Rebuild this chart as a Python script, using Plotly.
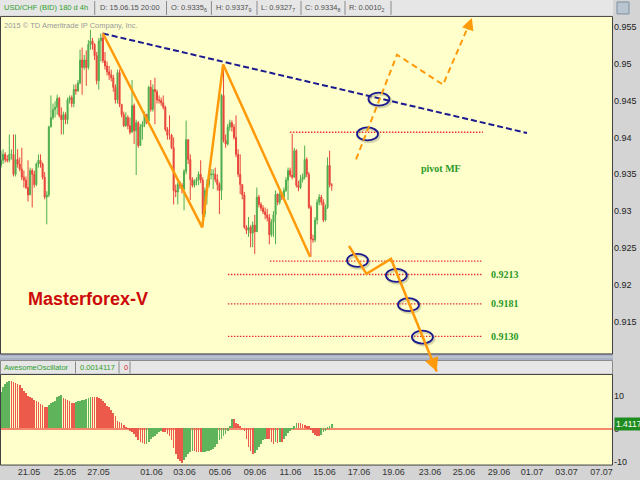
import plotly.graph_objects as go

# ---------------- data ----------------
first_open = 0.9362
closes = [0.9369, 0.9377, 0.9370, 0.9369, 0.9377, 0.9377, 0.9350, 0.9370, 0.9364, 0.9357,
          0.9346, 0.9342, 0.9332, 0.9322, 0.9355, 0.9350, 0.9336, 0.9364, 0.9369, 0.9364,
          0.9346, 0.9319, 0.9322, 0.9414, 0.9427, 0.9438, 0.9441, 0.9453, 0.9430, 0.9424,
          0.9431, 0.9424, 0.9451, 0.9454, 0.9446, 0.9465, 0.9463, 0.9474, 0.9505, 0.9495,
          0.9505, 0.9495, 0.9526, 0.9531, 0.9526, 0.9511, 0.9477, 0.9531, 0.9535, 0.9504,
          0.9497, 0.9489, 0.9485, 0.9481, 0.9468, 0.9451, 0.9488, 0.9445, 0.9431, 0.9416,
          0.9427, 0.9416, 0.9407, 0.9443, 0.9409, 0.9420, 0.9389, 0.9414, 0.9418, 0.9431,
          0.9422, 0.9468, 0.9438, 0.9465, 0.9462, 0.9451, 0.9450, 0.9447, 0.9441, 0.9411,
          0.9403, 0.9403, 0.9386, 0.9328, 0.9326, 0.9336, 0.9335, 0.9330, 0.9354, 0.9397,
          0.9370, 0.9343, 0.9335, 0.9341, 0.9343, 0.9350, 0.9342, 0.9296, 0.9328, 0.9336,
          0.9349, 0.9350, 0.9350, 0.9343, 0.9336, 0.9328, 0.9457, 0.9396, 0.9391, 0.9414,
          0.9420, 0.9414, 0.9400, 0.9377, 0.9350, 0.9336, 0.9322, 0.9278, 0.9274, 0.9278,
          0.9270, 0.9281, 0.9272, 0.9319, 0.9309, 0.9304, 0.9299, 0.9295, 0.9291, 0.9268,
          0.9285, 0.9295, 0.9323, 0.9312, 0.9323, 0.9319, 0.9328, 0.9342, 0.9355, 0.9349,
          0.9346, 0.9382, 0.9335, 0.9332, 0.9343, 0.9346, 0.9370, 0.9350, 0.9305, 0.9262,
          0.9261, 0.9288, 0.9312, 0.9319, 0.9312, 0.9288, 0.9305, 0.9362, 0.93356, 0.93348]
highs = [0.9382, 0.9384, 0.9380, 0.9376, 0.9404, 0.9384, 0.9404, 0.9404, 0.9384, 0.9373,
         0.9386, 0.9355, 0.9347, 0.9369, 0.9359, 0.9358, 0.9355, 0.9366, 0.9377, 0.9377,
         0.9366, 0.9353, 0.9327, 0.9416, 0.9457, 0.9446, 0.9449, 0.9458, 0.9455, 0.9441,
         0.9435, 0.9434, 0.9454, 0.9457, 0.9457, 0.9472, 0.9472, 0.9478, 0.9519, 0.9522,
         0.9512, 0.9518, 0.9532, 0.9546, 0.9535, 0.9528, 0.9516, 0.9535, 0.9541, 0.9542,
         0.9516, 0.9503, 0.9497, 0.9492, 0.9485, 0.9472, 0.9492, 0.9492, 0.9445, 0.9435,
         0.9434, 0.9430, 0.9427, 0.9478, 0.9446, 0.9424, 0.9422, 0.9418, 0.9422, 0.9435,
         0.9432, 0.9470, 0.9478, 0.9472, 0.9481, 0.9465, 0.9457, 0.9454, 0.9457, 0.9443,
         0.9414, 0.9430, 0.9405, 0.9400, 0.9336, 0.9339, 0.9341, 0.9338, 0.9357, 0.9423,
         0.9397, 0.9377, 0.9346, 0.9343, 0.9346, 0.9354, 0.9369, 0.9346, 0.9332, 0.9343,
         0.9355, 0.9357, 0.9357, 0.9359, 0.9350, 0.9339, 0.9459, 0.9499, 0.9404, 0.9418,
         0.9424, 0.9423, 0.9418, 0.9430, 0.9384, 0.9377, 0.9336, 0.9326, 0.9281, 0.9292,
         0.9281, 0.9286, 0.9295, 0.9332, 0.9322, 0.9312, 0.9308, 0.9305, 0.9303, 0.9296,
         0.9289, 0.9300, 0.9328, 0.9324, 0.9327, 0.9326, 0.9332, 0.9346, 0.9359, 0.9359,
         0.9405, 0.9386, 0.9384, 0.9341, 0.9349, 0.9351, 0.9389, 0.9373, 0.9353, 0.9308,
         0.9268, 0.9292, 0.9316, 0.9323, 0.9322, 0.9316, 0.9309, 0.9373, 0.9382, 0.93379]
lows = [0.9359, 0.9364, 0.9366, 0.9366, 0.9366, 0.9370, 0.9347, 0.9347, 0.9359, 0.9354,
        0.9342, 0.9332, 0.9330, 0.9313, 0.9322, 0.9305, 0.9332, 0.9334, 0.9359, 0.9359,
        0.9343, 0.9316, 0.9282, 0.9319, 0.9414, 0.9424, 0.9427, 0.9431, 0.9427, 0.9404,
        0.9404, 0.9418, 0.9418, 0.9446, 0.9441, 0.9441, 0.9458, 0.9462, 0.9472, 0.9458,
        0.9492, 0.9470, 0.9492, 0.9519, 0.9519, 0.9505, 0.9472, 0.9465, 0.9503, 0.9501,
        0.9492, 0.9484, 0.9478, 0.9476, 0.9462, 0.9446, 0.9446, 0.9441, 0.9427, 0.9414,
        0.9414, 0.9411, 0.9404, 0.9407, 0.9391, 0.9349, 0.9386, 0.9389, 0.9397, 0.9414,
        0.9418, 0.9422, 0.9435, 0.9435, 0.9418, 0.9446, 0.9446, 0.9443, 0.9438, 0.9408,
        0.9397, 0.9397, 0.9384, 0.9309, 0.9319, 0.9309, 0.9330, 0.9324, 0.9301, 0.9350,
        0.9364, 0.9315, 0.9332, 0.9332, 0.9335, 0.9335, 0.9338, 0.9278, 0.9292, 0.9309,
        0.9332, 0.9343, 0.9330, 0.9339, 0.9328, 0.9296, 0.9315, 0.9393, 0.9386, 0.9389,
        0.9409, 0.9408, 0.9397, 0.9373, 0.9346, 0.9323, 0.9316, 0.9276, 0.9269, 0.9265,
        0.9251, 0.9251, 0.9242, 0.9272, 0.9305, 0.9300, 0.9296, 0.9289, 0.9286, 0.9255,
        0.9265, 0.9265, 0.9255, 0.9308, 0.9309, 0.9315, 0.9316, 0.9326, 0.9315, 0.9346,
        0.9343, 0.9346, 0.9332, 0.9327, 0.9330, 0.9339, 0.9343, 0.9346, 0.9303, 0.9238,
        0.9257, 0.9258, 0.9282, 0.9308, 0.9308, 0.9285, 0.9286, 0.9303, 0.9332, 0.93277]
ao_values = [10.9, 12.6, 13.6, 14.2, 14.4, 14.4, 14.2, 13.8, 13.4, 13.1,
             12.4, 11.2, 10.7, 9.8, 9.4, 9.1, 8.6, 8.2, 7.9, 7.4,
             7.2, 6.6, 6.4, 7.2, 7.6, 7.9, 8.4, 9.4, 9.9, 10.2,
             9.2, 8.9, 8.6, 8.4, 7.6, 7.6, 7.9, 8.2, 8.4, 8.6,
             8.7, 8.9, 9.2, 9.6, 9.6, 9.6, 9.6, 9.2, 8.9, 8.2,
             7.6, 6.9, 6.4, 5.6, 4.8, 3.8, 2.3, 1.8, 1.5, 1.1,
             0.3, -0.2, -0.8, -1.2, -1.7, -2.7, -3.5, -4.2, -4.5, -4.9,
             -4.7, -4.2, -3.2, -2.7, -2.2, -1.7, -1.2, -0.9, -1.2, -1.2,
             -1.7, -2.2, -3.7, -6.0, -7.8, -9.3, -10.0, -10.6, -9.6, -8.6,
             -7.8, -7.3, -7.0, -7.0, -7.3, -7.3, -7.3, -7.2, -7.1, -7.0,
             -6.8, -6.6, -6.3, -5.6, -4.7, -3.7, -3.2, -2.2, -1.7, -0.7,
             0.8, 2.8, 2.8, 1.6, 1.3, 0.8, -0.2, -0.9, -3.2, -5.6,
             -7.0, -7.8, -7.6, -6.6, -5.8, -4.7, -3.7, -3.2, -3.2, -3.2,
             -4.2, -4.7, -4.2, -4.5, -4.2, -4.2, -3.2, -2.2, -1.5, -0.7,
             -0.2, 0.6, 1.5, 1.5, 1.5, 1.3, 1.1, 0.6, 0.6, -0.5,
             -1.5, -1.9, -2.2, -2.5, -1.9, -1.0, -0.7, 0.4, 0.6, 1.4117]

date_tick_pos = [13.5, 30.8, 46.9, 72.4, 88.2, 105.3, 122.1, 139.2, 155.5,
                 172.1, 188.7, 206.3, 222.6, 239.4, 255.3, 271.9, 288.7]
date_tick_text = ["21.05", "25.05", "27.05", "01.06", "03.06", "05.06", "09.06", "11.06", "15.06",
                  "17.06", "19.06", "23.06", "25.06", "29.06", "01.07", "03.07", "07.07"]
price_ticks = [0.955, 0.95, 0.945, 0.94, 0.935, 0.93, 0.925, 0.92, 0.915]
price_tick_text = ["0.955", "0.95", "0.945", "0.94", "0.935", "0.93", "0.925", "0.92", "0.915"]
ao_ticks = [10, 0, -10]
ao_tick_text = ["10", "0", "-10"]

# drawing tools (bar index, price)
zigzag_x = [49.0, 96.7, 106.8, 148.6]
zigzag_y = [0.9541, 0.9278, 0.9499, 0.9238]
trend_x = [49.0, 252.9]
trend_y = [0.9541, 0.9406]
pivot_levels = [0.9407, 0.9232, 0.9214, 0.9174, 0.9130]
pivot_start = [138.9, 129.3, 109.1, 109.1, 109.1]
pivot_end = 231.7
level_labels = ["0.9213", "0.9181", "0.9130"]
level_label_y = [0.9214, 0.9174, 0.9130]
down_path_x = [167.3, 175.7, 187.5, 209.5]
down_path_y = [0.92527, 0.92149, 0.92351, 0.90824]
up_path_x = [170.7, 190.4, 212.5, 226.4]
up_path_y = [0.93703, 0.95122, 0.94716, 0.95622]
ellipse_x = [181.7, 176.2, 171.4, 190.1, 195.9, 202.6]
ellipse_y = [0.94520, 0.94047, 0.92331, 0.92128, 0.91730, 0.91291]

# ---------------- figure ----------------
W, H = 640, 480
PX = 613  # right edge of plot area


def fx(x):
    return x / W


def fy(y):
    return 1 - y / H


n = len(closes)
idx = list(range(n))
opens = [first_open] + closes[:-1]

G = "#4fae4f"
R = "#e8443a"
AO_G = "#5fb35a"
AO_R = "#ec5a4c"
ORANGE = "#ff9a0a"
NAVY = "#1b1b8f"
FONT = "Liberation Sans Narrow, Liberation Sans, Arial, sans-serif"

fig = go.Figure()
fig.add_trace(go.Candlestick(
    x=idx, open=opens, high=highs, low=lows, close=closes,
    increasing=dict(line=dict(color=G, width=1), fillcolor=G),
    decreasing=dict(line=dict(color=R, width=1), fillcolor=R),
    whiskerwidth=0, hoverinfo="skip", xaxis="x", yaxis="y"))

ao_colors = [AO_G if i == 0 or ao_values[i] > ao_values[i - 1] else AO_R for i in range(n)]
fig.add_trace(go.Bar(x=idx, y=ao_values, marker=dict(color=ao_colors, line=dict(width=0)),
                     width=0.33, xaxis="x2", yaxis="y2", hoverinfo="skip"))

# pivot levels
for p, x0 in zip(pivot_levels, pivot_start):
    fig.add_trace(go.Scatter(x=[x0, pivot_end], y=[p, p], mode="lines",
                             line=dict(color="#e83030", width=1.3, dash="1.5px,1.5px"),
                             hoverinfo="skip", xaxis="x", yaxis="y"))
# trend line
fig.add_trace(go.Scatter(x=trend_x, y=trend_y, mode="lines",
                         line=dict(color=NAVY, width=2, dash="6px,3px"),
                         hoverinfo="skip", xaxis="x", yaxis="y"))
# zigzag
fig.add_trace(go.Scatter(x=zigzag_x, y=zigzag_y, mode="lines",
                         line=dict(color=ORANGE, width=2.5),
                         hoverinfo="skip", xaxis="x", yaxis="y"))

shapes = []
# top header bar
shapes.append(dict(type="rect", xref="paper", yref="paper", x0=0, x1=fx(PX), y0=fy(16), y1=1,
                   fillcolor="#e6e6e6", line=dict(width=0), layer="above"))
for sx in [94.7, 166.5, 211.4, 257, 301, 345, 391]:
    shapes.append(dict(type="line", xref="paper", yref="paper", x0=fx(sx), x1=fx(sx),
                       y0=fy(15), y1=fy(1), line=dict(color="#8a8a8a", width=1), layer="above"))
shapes.append(dict(type="rect", xref="paper", yref="paper", x0=fx(617), x1=fx(629), y0=fy(14), y1=fy(2),
                   fillcolor="#b9c6d2", line=dict(color="#7d8fa0", width=1), layer="above"))
# separator between panes
shapes.append(dict(type="rect", xref="paper", yref="paper", x0=0, x1=fx(PX), y0=fy(362), y1=fy(355),
                   fillcolor="#aab3c5", line=dict(width=0), layer="above"))
shapes.append(dict(type="line", xref="paper", yref="paper", x0=0, x1=fx(PX), y0=fy(358.5), y1=fy(358.5),
                   line=dict(color="#c8cedb", width=1), layer="above"))
# AO header bar
shapes.append(dict(type="rect", xref="paper", yref="paper", x0=fx(0.5), x1=fx(PX - 0.5), y0=fy(376), y1=fy(362),
                   fillcolor="#e6e6e6", line=dict(color="#8a8a8a", width=1), layer="above"))
for sx in [75.5, 119, 130]:
    shapes.append(dict(type="line", xref="paper", yref="paper", x0=fx(sx), x1=fx(sx),
                       y0=fy(375), y1=fy(363), line=dict(color="#8a8a8a", width=1), layer="above"))
# plot borders
shapes.append(dict(type="rect", xref="paper", yref="paper", x0=fx(0.5), x1=fx(PX - 0.5), y0=fy(355.5), y1=fy(16.5),
                   line=dict(color="#404040", width=1), layer="above"))
shapes.append(dict(type="rect", xref="paper", yref="paper", x0=fx(0.5), x1=fx(PX - 0.5), y0=fy(467), y1=fy(376),
                   line=dict(color="#404040", width=1), layer="above"))

# ellipses (shadow + outline)
rx, ry = 5.05, 0.00088
for cx, cy in zip(ellipse_x, ellipse_y):
    shapes.append(dict(type="circle", xref="x", yref="y", x0=cx - rx + 0.6, x1=cx + rx + 0.6,
                       y0=cy - ry - 0.00022, y1=cy + ry - 0.00022,
                       line=dict(color="rgba(140,140,100,0.35)", width=2.5), layer="above"))
    shapes.append(dict(type="circle", xref="x", yref="y", x0=cx - rx, x1=cx + rx,
                       y0=cy - ry, y1=cy + ry, line=dict(color=NAVY, width=1.8), layer="above"))


def path(xs, ys):
    return "M " + " L ".join(f"{x},{y}" for x, y in zip(xs, ys))


shapes.append(dict(type="path", xref="x", yref="y", path=path(down_path_x, down_path_y),
                   line=dict(color=ORANGE, width=2.5), layer="above"))
shapes.append(dict(type="path", xref="x", yref="y", path=path(up_path_x, up_path_y),
                   line=dict(color=ORANGE, width=2, dash="6px,4px"), layer="above"))

annotations = []


def txt(x, y, s, color="#505050", size=7.5, family=FONT, xanchor="left", **kw):
    annotations.append(dict(x=x, y=y, xref="paper", yref="paper", text=s, showarrow=False,
                            xanchor=xanchor, yanchor="middle", font=dict(color=color, size=size, family=family), **kw))


def last_fmt(v):
    s = f"{v:.5f}"
    return s[:-1] + "<sub>" + s[-1] + "</sub>"


txt(fx(2), fy(8), "USD/CHF (BID) 180 d 4h", color="#2e9e2e")
txt(fx(98), fy(8), "D: 15.06.15 20:00")
txt(fx(169), fy(8), "O: " + last_fmt(opens[-1]))
txt(fx(214), fy(8), "H: " + last_fmt(highs[-1]))
txt(fx(259), fy(8), "L: " + last_fmt(lows[-1]))
txt(fx(303), fy(8), "C: " + last_fmt(closes[-1]))
txt(fx(347), fy(8), "R: " + last_fmt(highs[-1] - lows[-1]))
txt(fx(2), fy(26), "2015 © TD Ameritrade IP Company, Inc.", color="#9a9a9a", size=7.5)
txt(fx(88), fy(300), "<b>Masterforex-V</b>", color="#cc0a0a", size=18,
    family="Liberation Sans, Arial, sans-serif", xanchor="center")
txt(fx(2), fy(369), "AwesomeOscillator", color="#2e9e2e")
txt(fx(78), fy(369), f"{ao_values[-1] / 1000:.7f}", color="#2e9e2e")
txt(fx(122), fy(369), "0", color="#e03030")

# current AO value box
annotations.append(dict(x=fx(PX + 0.5), y=ao_values[-1], xref="paper", yref="y2", text=f"{ao_values[-1]:.4f}",
                        showarrow=False, xanchor="left", yanchor="middle", bgcolor="#1e8c1e",
                        borderpad=1, font=dict(color="white", size=8.5, family=FONT)))

SERIF = "Liberation Serif, Times New Roman, serif"
for lab, ly in zip(level_labels, level_label_y):
    annotations.append(dict(x=242.5, y=ly, xref="x", yref="y", text=f"<b>{lab}</b>", showarrow=False,
                            xanchor="center", yanchor="middle", font=dict(color="#2a9a2a", size=10, family=SERIF)))
annotations.append(dict(x=211.5, y=0.9358, xref="x", yref="y", text="<b>pivot MF</b>", showarrow=False,
                        xanchor="center", yanchor="middle", font=dict(color="#2a9a2a", size=10, family=SERIF)))

# arrow heads
annotations.append(dict(x=down_path_x[-1], y=down_path_y[-1], xref="x", yref="y",
                        ax=207.2, ay=0.90986, axref="x", ayref="y", text="", showarrow=True,
                        arrowhead=2, arrowsize=1.1, arrowwidth=2.5, arrowcolor=ORANGE, standoff=0))
annotations.append(dict(x=up_path_x[-1], y=up_path_y[-1], xref="x", yref="y",
                        ax=224.1, ay=0.95446, axref="x", ayref="y", text="", showarrow=True,
                        arrowhead=2, arrowsize=1.1, arrowwidth=2.2, arrowcolor=ORANGE, standoff=0))

xr = [-0.48, 294.23]
fig.update_layout(
    width=W, height=H, margin=dict(l=0, r=0, t=0, b=0),
    paper_bgcolor="#d4d4d4", plot_bgcolor="#ffffcc", showlegend=False,
    bargap=0,
    xaxis=dict(domain=[0, fx(PX)], range=xr, showticklabels=False, showgrid=False, zeroline=False,
               rangeslider=dict(visible=False), anchor="y", fixedrange=True),
    yaxis=dict(domain=[fy(376), fy(16)], range=[0.907836, 0.956487], side="right", anchor="x",
               tickvals=price_ticks, ticktext=price_tick_text, showgrid=False, zeroline=False,
               ticks="", tickfont=dict(size=9, color="#222222", family=FONT)),
    xaxis2=dict(domain=[0, fx(PX)], range=xr, anchor="y2", tickvals=date_tick_pos, ticktext=date_tick_text,
                showgrid=False, zeroline=False, ticks="", tickfont=dict(size=9, color="#333333", family=FONT)),
    yaxis2=dict(domain=[fy(467), fy(376)], range=[-11.06, 16.52], side="right", anchor="x2",
                tickvals=ao_ticks, ticktext=ao_tick_text, showgrid=False,
                zeroline=True, zerolinecolor="#f4896b", zerolinewidth=2,
                ticks="", tickfont=dict(size=9, color="#222222", family=FONT)),
    shapes=shapes, annotations=annotations,
)

fig.write_html("out.html", config={"displayModeBar": False},
               post_script="document.body.style.margin='0';document.body.style.overflow='hidden';")
